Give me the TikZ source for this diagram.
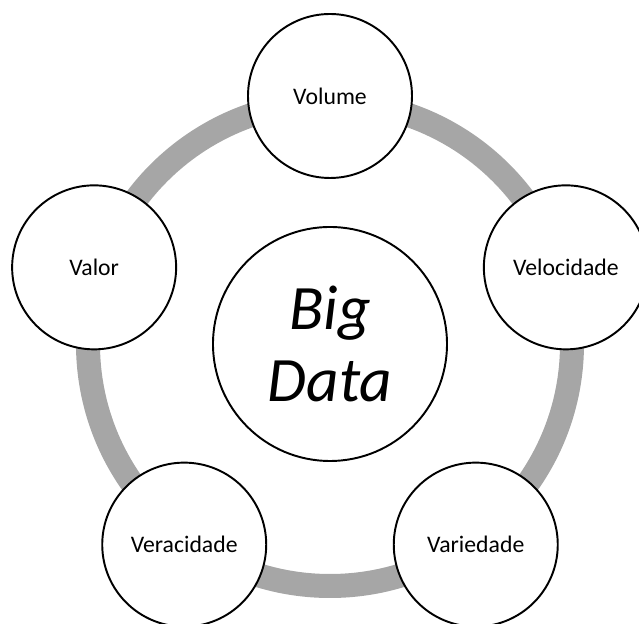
\documentclass[tikz,border=0pt]{standalone}
\usepackage{fontspec}
\setmainfont{Carlito}
\usepackage{tikz}
\definecolor{ringgray}{RGB}{166,166,166}

\begin{document}
\begin{tikzpicture}[
    vnode/.style={circle, draw, line width=1.1pt, fill=white, minimum size=3.28cm,
        inner sep=0pt, font=\fontsize{13.5}{15}\selectfont},
    core/.style={circle, draw, line width=1.1pt, fill=white, minimum size=4.68cm,
        inner sep=0pt, align=center, font=\fontsize{36}{41}\selectfont\itshape}]
    \useasboundingbox (-6.6,-5.6) rectangle (6.18,6.88);

    % ring behind the five Vs
    \draw[ringgray, line width=0.48cm] (0,0) circle (4.84cm);

    \node[core] (bigdata) at (0,0) {Big\\Data};
    \node[vnode] (volume) at (90:4.96) {Volume};
    \node[vnode] (velocidade) at (18:4.96) {Velocidade};
    \node[vnode] (variedade) at (-54:4.96) {Variedade};
    \node[vnode] (veracidade) at (-126:4.96) {Veracidade};
    \node[vnode] (valor) at (162:4.96) {Valor};
\end{tikzpicture}
\end{document}
